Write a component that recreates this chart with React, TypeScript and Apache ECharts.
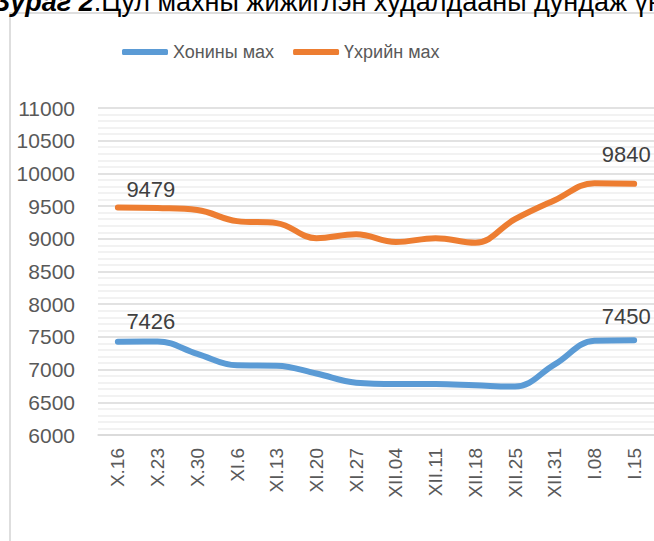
import React, { useEffect, useRef } from "react";
import * as echarts from "echarts";

const categories = ["X.16", "X.23", "X.30", "XI.6", "XI.13", "XI.20", "XI.27", "XII.04", "XII.11", "XII.18", "XII.25", "XII.31", "I.08", "I.15"];
const muttonValues = [7426, 7430, 7240, 7065, 7060, 6940, 6800, 6780, 6780, 6760, 6740, 7080, 7440, 7450];
const beefValues = [9479, 9470, 9440, 9270, 9240, 9010, 9070, 8950, 9010, 8940, 9300, 9590, 9850, 9840];
const seriesNames = ["Хонины мах", "Үхрийн мах"];
const titleBold = "Зураг 2";
const titleRest = ".Цул махны жижиглэн худалдааны дундаж үнэ";

const FONT = "'Liberation Sans', Arial, sans-serif";

function withEndLabels(values: number[], firstOffset: number[], lastOffset: number[]) {
  return values.map((v, i) => {
    if (i === 0 || i === values.length - 1) {
      return {
        value: v,
        label: {
          show: true,
          position: "top",
          offset: i === 0 ? firstOffset : lastOffset,
          color: "#404040",
          fontSize: 22,
          fontFamily: FONT,
        },
      };
    }
    return v;
  });
}

export default function App() {
  const ref = useRef<HTMLDivElement>(null);
  useEffect(() => {
    document.body.style.margin = "0";
    document.body.style.overflow = "hidden";
    const chart = echarts.init(ref.current!, undefined, { renderer: "svg" });
    chart.setOption({
      animation: false,
      backgroundColor: "#ffffff",
      graphic: [
        {
          type: "rect",
          shape: { x: 10, y: 13, width: 700, height: 600 },
          style: { fill: "none", stroke: "#d4d4d4", lineWidth: 1.5 },
          z: -1,
        },
        {
          type: "text",
          left: -7,
          top: -12,
          style: {
            text: "{b|" + titleBold + "}" + titleRest,
            fontFamily: FONT,
            fontSize: 27,
            fill: "#000000",
            rich: {
              b: { fontWeight: "bold", fontStyle: "italic", fontSize: 27, fontFamily: FONT, fill: "#000000" },
            },
          },
        },
      ],
      legend: {
        left: 117,
        top: 38,
        itemWidth: 46,
        itemHeight: 6,
        itemGap: 19,
        icon: "roundRect",
        textStyle: { color: "#595959", fontSize: 18, fontFamily: FONT },
        data: seriesNames,
      },
      grid: { left: 98, right: -11, top: 108, bottom: 106, containLabel: false },
      xAxis: {
        type: "category",
        data: categories,
        boundaryGap: true,
        axisLine: { show: true, lineStyle: { color: "#d9d9d9", width: 1.5 } },
        axisTick: { show: false },
        axisLabel: { rotate: 90, margin: 13, color: "#595959", fontSize: 19, fontFamily: FONT, interval: 0 },
      },
      yAxis: {
        type: "value",
        min: 6000,
        max: 11000,
        interval: 500,
        axisLine: { show: false },
        axisTick: { show: false },
        axisLabel: { margin: 23, color: "#595959", fontSize: 21, fontFamily: FONT, formatter: (v: number) => String(v) },
        splitLine: { lineStyle: { color: "#d9d9d9", width: 1.5 } },
        minorTick: { show: false, splitNumber: 5 },
        minorSplitLine: { show: true, lineStyle: { color: "#eeeeee", width: 1.5 } },
      },
      series: [
        {
          name: seriesNames[0],
          type: "line",
          smooth: 0.4,
          symbol: "circle",
          symbolSize: 0.1,
          showSymbol: true,
          lineStyle: { color: "#5b9bd5", width: 6, cap: "round" },
          itemStyle: { color: "#5b9bd5" },
          data: withEndLabels(muttonValues, [33, -4], [-8, -8]),
        },
        {
          name: seriesNames[1],
          type: "line",
          smooth: 0.4,
          symbol: "circle",
          symbolSize: 0.1,
          showSymbol: true,
          lineStyle: { color: "#ed7d31", width: 6, cap: "round" },
          itemStyle: { color: "#ed7d31" },
          data: withEndLabels(beefValues, [33, -2], [-8, -13]),
        },
      ],
    });
    return () => chart.dispose();
  }, []);
  return <div ref={ref} style={{ position: "absolute", left: 0, top: 0, width: 654, height: 541 }} />;
}
